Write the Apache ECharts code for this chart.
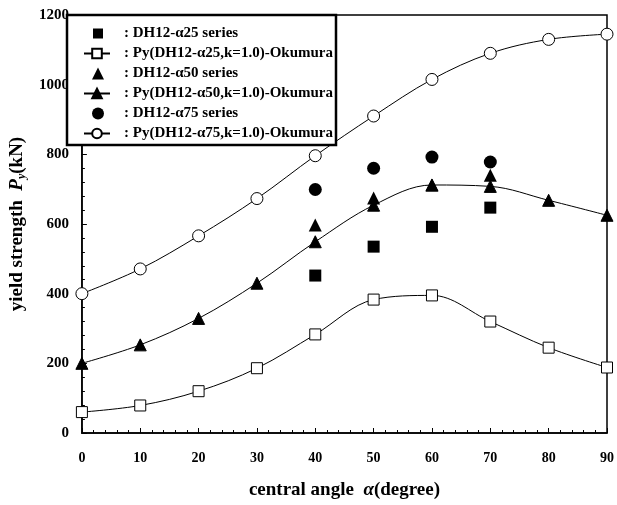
<!DOCTYPE html>
<html><head><meta charset="utf-8">
<script src="https://cdn.jsdelivr.net/npm/echarts@6/dist/echarts.min.js"></script>
<style>html,body{margin:0;padding:0;background:#fff}#c{width:617px;height:505px}</style>
</head><body><div id="c"></div>
<script>
var angles = [0,10,20,30,40,50,60,70,80,90];
var okumura25 = [60,79,120,186,283,383,395,320,245,188];
var okumura50 = [200,253,329,430,549,654,712,708,668,625];
var okumura75 = [400,471,566,673,796,910,1015,1090,1130,1145];
var expAngles = [40,50,60,70];
var exp25 = [452,535,592,647];
var exp50 = [597,675,712,740];
var exp75 = [699,760,792,778];
var seriesNames = [': DH12-α25 series', ': Py(DH12-α25,k=1.0)-Okumura', ': DH12-α50 series', ': Py(DH12-α50,k=1.0)-Okumura', ': DH12-α75 series', ': Py(DH12-α75,k=1.0)-Okumura'];

function pairs(xs, ys){ return xs.map(function(x,i){return [x, ys[i]];}); }
var font = 'Liberation Serif';
var chart = echarts.init(document.getElementById('c'));
function curve(name, data, symbol, size, fill){
  return {type:'line', name:name, data:pairs(angles,data), smooth:0.35, symbol:symbol, symbolSize:size,
    showAllSymbol:true, clip:false, lineStyle:{color:'#000', width:1},
    itemStyle:{color:fill, borderColor:'#000', borderWidth:1, opacity:1}, z:2};
}
function pts(name, data, symbol, size){
  return {type:'scatter', name:name, data:pairs(expAngles,data), symbol:symbol, symbolSize:size,
    itemStyle:{color:'#000', opacity:1}, z:3};
}
var icoSq = 'path://M0,0M26,12M9,1h10v10H9z';
var icoTri = 'path://M0,0M26,12M14,0L20,12H8z';
var icoCir = 'path://M0,0M26,12M20,6A6,6 0 1 1 8,6A6,6 0 1 1 20,6z';
chart.setOption({
  animation:false,
  grid:{left:67, right:6, top:15, bottom:69, show:true, borderColor:'#000', borderWidth:1.5},
  legend:{orient:'vertical', left:67, top:15, itemWidth:26, itemHeight:12, itemGap:5,
    padding:[11,3,4,16], borderColor:'#000', borderWidth:2.5, backgroundColor:'#fff',
    textStyle:{fontFamily:font, fontWeight:'bold', fontSize:15, color:'#000', padding:[0,0,0,9]},
    data:[{name:seriesNames[0], icon:icoSq},{name:seriesNames[1]},{name:seriesNames[2], icon:icoTri},
          {name:seriesNames[3]},{name:seriesNames[4], icon:icoCir},{name:seriesNames[5]}]},
  xAxis:{type:'value', min:0, max:90, interval:10,
    axisLine:{lineStyle:{color:'#000', width:1.5}},
    axisTick:{inside:true, length:5, lineStyle:{color:'#000'}},
    minorTick:{show:true, splitNumber:5, length:3, lineStyle:{color:'#000'}},
    splitLine:{show:false},
    axisLabel:{fontFamily:font, fontWeight:'bold', fontSize:14, color:'#000', margin:18},
    name:'{a|central angle  }{i|α}{a|(degree)}', nameLocation:'middle', nameGap:48,
    nameTextStyle:{fontFamily:font, fontWeight:'bold', fontSize:19, color:'#000',
      rich:{a:{fontFamily:font, fontWeight:'bold', fontSize:19, color:'#000'},
            i:{fontFamily:font, fontWeight:'bold', fontStyle:'italic', fontSize:19, color:'#000'}}}},
  yAxis:{type:'value', min:0, max:1200, interval:200,
    axisLine:{lineStyle:{color:'#000', width:1.5}},
    axisTick:{inside:true, length:5, lineStyle:{color:'#000'}},
    minorTick:{show:true, splitNumber:5, length:3, lineStyle:{color:'#000'}},
    splitLine:{show:false},
    axisLabel:{fontFamily:font, fontWeight:'bold', fontSize:15, color:'#000', margin:13,
      formatter:function(v){return String(v);}},
    name:'{a|yield strength  }{i|P}{s|y}{a|(kN)}', nameLocation:'middle', nameGap:40, nameRotate:90,
    nameTextStyle:{fontFamily:font, fontWeight:'bold', fontSize:19, color:'#000',
      rich:{a:{fontFamily:font, fontWeight:'bold', fontSize:19, color:'#000'},
            i:{fontFamily:font, fontWeight:'bold', fontStyle:'italic', fontSize:19, color:'#000'},
            s:{fontFamily:font, fontWeight:'bold', fontStyle:'italic', fontSize:12, color:'#000', verticalAlign:'bottom', padding:[9,0,0,0]}}}},
  series:[
    pts(seriesNames[0], exp25, 'rect', 12),
    curve(seriesNames[1], okumura25, 'rect', 11, '#fff'),
    pts(seriesNames[2], exp50, 'triangle', 13),
    curve(seriesNames[3], okumura50, 'triangle', 12, '#000'),
    pts(seriesNames[4], exp75, 'circle', 13),
    curve(seriesNames[5], okumura75, 'circle', 12, '#fff')
  ]
});
</script></body></html>
